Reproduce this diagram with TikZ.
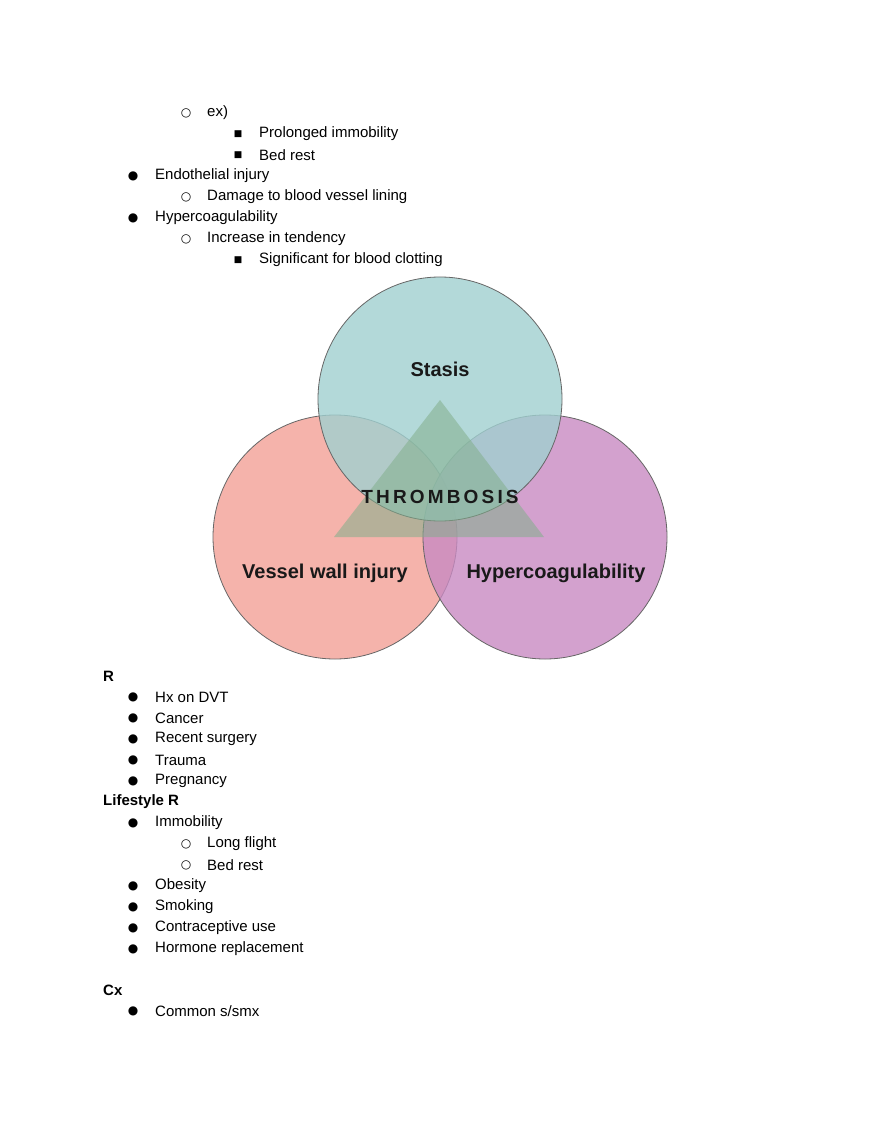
\documentclass[tikz,border=0pt]{standalone}
\usepackage{fontspec}
\setmainfont{Liberation Sans}
\newfontfamily\sym{DejaVu Sans}
\begin{document}
\begin{tikzpicture}[x=1pt,y=-1pt,
 txt/.style={anchor=west,inner sep=0pt,font=\fontsize{15}{15}\selectfont},
 hd/.style={txt,font=\fontsize{15}{15}\selectfont\bfseries},
 b1/.style={anchor=center,inner sep=0pt,font=\fontsize{12}{12}\sym},
 circ/.style={draw=black!60,line width=0.8pt,fill opacity=0.8},
 lbl/.style={font=\fontsize{20}{20}\selectfont\bfseries,text=black!90}]
\useasboundingbox (0,0) rectangle (880,1139);
\fill[white] (0,0) rectangle (880,1139);
\definecolor{teal}{RGB}{160,208,208}
\definecolor{pinkc}{RGB}{243,160,150}
\definecolor{purp}{RGB}{200,138,194}
\definecolor{tri}{RGB}{130,175,140}
% outline list
\newcommand{\lvA}[3]{\node[b1] (#1b) at (133,#2) {●}; \node[txt] (#1) at (155,#2) {#3};}
\newcommand{\lvB}[3]{\node[b1] (#1b) at (186,#2) {○}; \node[txt] (#1) at (207,#2) {#3};}
\newcommand{\lvC}[3]{\node[b1,font=\fontsize{9}{9}\sym] (#1b) at (238,#2) {■}; \node[txt] (#1) at (259,#2) {#3};}
\lvB{t1}{113}{ex)}
\lvC{t2}{134}{Prolonged immobility}
\lvC{t3}{155}{Bed rest}
\lvA{t4}{176}{Endothelial injury}
\lvB{t5}{197}{Damage to blood vessel lining}
\lvA{t6}{218}{Hypercoagulability}
\lvB{t7}{239}{Increase in tendency}
\lvC{t8}{260}{Significant for blood clotting}
% venn
\filldraw[circ,fill=pinkc] (335,537) circle (122);
\filldraw[circ,fill=purp] (545,537) circle (122);
\filldraw[circ,fill=teal] (440,399) circle (122);
\fill[tri,fill opacity=0.55] (440,400) -- (544,537) -- (334,537) -- cycle;
\node[lbl] (st) at (440,369) {Stasis};
\node[lbl] (vw) at (325,573) {Vessel wall injury};
\node[lbl] (hy) at (556,573) {Hypercoagulability};
\node[lbl,font=\fontsize{19}{19}\selectfont\bfseries] (th) at (440,497) {T\,H\,R\,O\,M\,B\,O\,S\,I\,S};
% lists
\node[hd] (r) at (103,676) {R};
\lvA{a1}{697}{Hx on DVT}
\lvA{a2}{718}{Cancer}
\lvA{a3}{739}{Recent surgery}
\lvA{a4}{760}{Trauma}
\lvA{a5}{781}{Pregnancy}
\node[hd] (lr) at (103,802) {Lifestyle R};
\lvA{c1}{823}{Immobility}
\lvB{c2}{844}{Long flight}
\lvB{c3}{865}{Bed rest}
\lvA{c4}{886}{Obesity}
\lvA{c5}{907}{Smoking}
\lvA{c6}{928}{Contraceptive use}
\lvA{c7}{949}{Hormone replacement}
\node[hd] (cx) at (103,990) {Cx};
\lvA{d1}{1011}{Common s/smx}
\end{tikzpicture}
\end{document}
